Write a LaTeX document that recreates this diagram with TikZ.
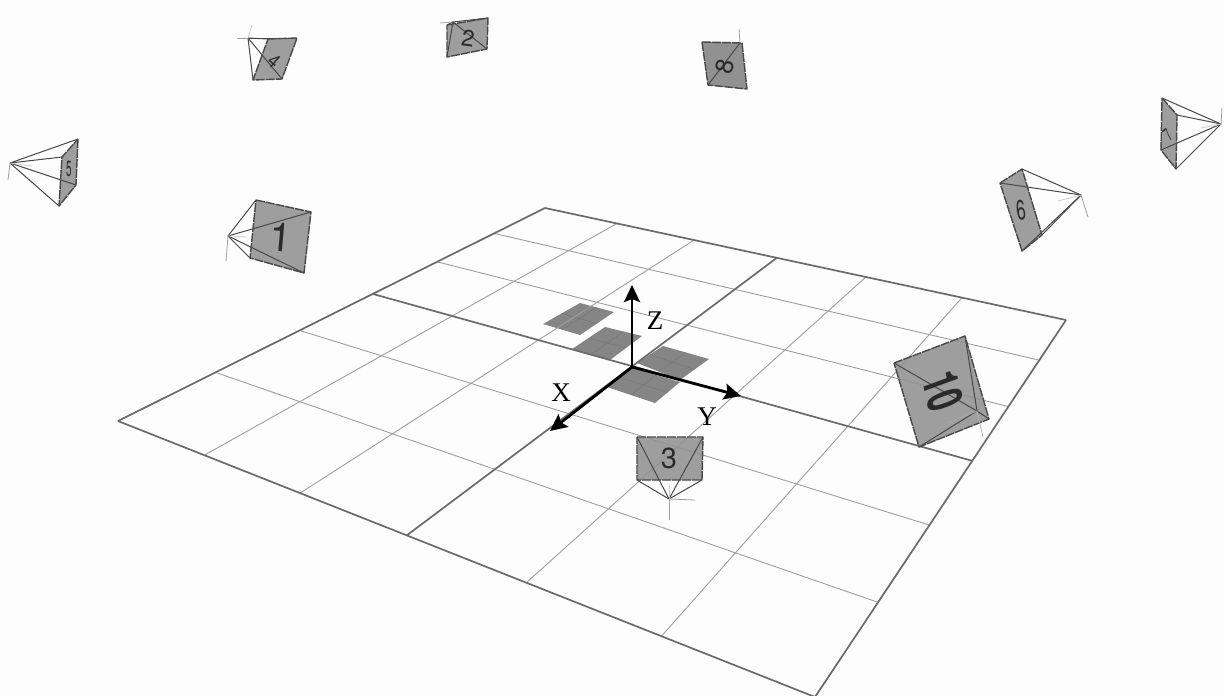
\documentclass[tikz,border=0pt]{standalone}
\usepackage{fontspec}
\setmainfont{Liberation Serif}
\newfontfamily\camfont{TeX Gyre Heros}
\usetikzlibrary{arrows.meta,calc}
\definecolor{bgc}{HTML}{FDFDFD}
\definecolor{thinc}{HTML}{9E9E9E}
\definecolor{heavyc}{HTML}{6A6A6A}
\definecolor{patchc}{HTML}{858585}
\definecolor{patchl}{HTML}{757575}
\definecolor{camc}{HTML}{919191}
\definecolor{edgec}{HTML}{484848}
\definecolor{numc}{HTML}{2A2A2A}
\tikzset{
  gridthin/.style={draw=thinc,line width=0.9pt},
  gridheavy/.style={draw=heavyc,line width=1.7pt},
  patch/.style={fill=patchc,draw=none},
  patchline/.style={draw=patchl,line width=0.5pt},
  camface/.style={draw=edgec,line width=1.4pt,dash pattern=on 9pt off 1pt,line join=round},
  camray/.style={draw=edgec,line width=1pt},
  camaxis/.style={draw=gray!75,line width=0.8pt},
  camnum/.style={text=numc,font=\camfont,inner sep=0pt,transform shape},
  axisarrow/.style={draw=black,line width=2.8pt,-{Stealth[length=17pt,width=16pt,inset=3pt]}},
  axislabel/.style={font=\fontsize{27}{27}\selectfont,text=black,inner sep=0pt}
}
\newcommand{\campyr}[5]{%
  \fill[camc,fill opacity=0.88] #2--#3--#4--#5--cycle;
  \draw[camface] #2--#3--#4--#5--cycle;
  \foreach \cc in {#2,#3,#4,#5}{\draw[camray] #1 -- \cc;}
}
\newcommand{\patchq}[4]{%
  \fill[patch] #1--#2--#3--#4--cycle;
  \draw[patchline] ($#1!0.5!#2$)--($#4!0.5!#3$);
  \draw[patchline] ($#1!0.5!#4$)--($#2!0.5!#3$);
}
\begin{document}
\begin{tikzpicture}[x=1pt,y=-1pt,
  declare function={
    hx(\u,\v)=(309.97*\u-465.21*\v+545)/(-0.19796*\u-0.32380*\v+1);
    hy(\u,\v)=(48.65*\u+76.68*\v+208)/(-0.19796*\u-0.32380*\v+1);
  }]
\useasboundingbox (0,0) rectangle (1224,696);
\fill[bgc] (0,0) rectangle (1224,696);
\clip (0,0) rectangle (1224,696);
% patches under the grid
\patchq{(543,324)}{(580,303)}{(614,312)}{(580,335)}
\patchq{(572,349)}{(605,327)}{(642,336)}{(610,360)}
\patchq{(637,363)}{(663,346)}{(709,359)}{(680,380)}
\patchq{(607,387)}{(632,368)}{(680,382)}{(655,403)}
% floor grid
\foreach \i in {1,2,4,5}{
  \draw[gridthin] ({hx(\i/6,0)},{hy(\i/6,0)}) -- ({hx(\i/6,1)},{hy(\i/6,1)});
  \draw[gridthin] ({hx(0,\i/6)},{hy(0,\i/6)}) -- ({hx(1,\i/6)},{hy(1,\i/6)});
}
\foreach \i in {0,3,6}{
  \draw[gridheavy] ({hx(\i/6,0)},{hy(\i/6,0)}) -- ({hx(\i/6,1)},{hy(\i/6,1)});
  \draw[gridheavy] ({hx(0,\i/6)},{hy(0,\i/6)}) -- ({hx(1,\i/6)},{hy(1,\i/6)});
}
% camera 1
\campyr{(228,236)}{(256,200)}{(311,212)}{(304,273)}{(250,258)}
\draw[camaxis] (228,236)--(226,261);
\draw[camaxis,gray!40] (228,236)--(247,237);
\node[camnum,font=\camfont\fontsize{40}{40}\selectfont,rotate=-5] (n1) at (281,237) {1};
% camera 2
\campyr{(453,22)}{(447,25)}{(488,18)}{(487,49)}{(447,57)}
\draw[camaxis] (453,22)--(440,23);
\node[camnum,font=\camfont\fontsize{23}{23}\selectfont,rotate=-8] (n2) at (468,38) {2};
% camera 3
\campyr{(669,499)}{(637,437)}{(703,437)}{(702,480)}{(637,480)}
\draw[camaxis] (669,499)--(669,520);
\draw[camaxis] (669,499)--(695,500);
\draw[camaxis,gray!40] (669,499)--(669,485);
\node[camnum,font=\camfont\fontsize{29}{29}\selectfont] (n3) at (669,458) {3};
% camera 4
\campyr{(248,38)}{(268,39)}{(297,38)}{(282,79)}{(253,80)}
\draw[camaxis] (248,38)--(237,38);
\draw[camaxis,gray!40] (248,38)--(252,25);
\node[camnum,font=\camfont\fontsize{20}{20}\selectfont,rotate=-40,xscale=0.85] (n4) at (274,61) {4};
% camera 5
\campyr{(10,163)}{(78,139)}{(76,185)}{(59,206)}{(62,157)}
\draw[camaxis] (10,163)--(8,180);
\draw[camaxis,gray!40] (10,163)--(32,166);
\node[camnum,font=\camfont\fontsize{22}{22}\selectfont,xscale=0.45] (n5) at (69,169) {5};
% camera 6
\campyr{(1081,195)}{(1000,183)}{(1022,169)}{(1042,235)}{(1022,251)}
\draw[camaxis] (1081,195)--(1088,217);
\draw[camaxis,gray!40] (1081,195)--(1058,201);
\node[camnum,font=\camfont\fontsize{28}{28}\selectfont,rotate=8,xscale=0.6] (n6) at (1021,210) {6};
% camera 7
\campyr{(1221,124)}{(1162,98)}{(1177,115)}{(1176,169)}{(1161,150)}
\draw[camaxis] (1221,124)--(1222,108);
\draw[camaxis,gray!40] (1221,124)--(1201,128);
\node[camnum,font=\camfont\fontsize{18}{18}\selectfont,rotate=40,xscale=0.6] (n7) at (1168,135) {7};
% camera 8
\fill[camc] (702,42)--(742,43)--(747,89)--(708,85)--cycle;
\draw[camface] (702,42)--(742,43)--(747,89)--(708,85)--cycle;
\draw[camray] (740,43)--(708,85);
\draw[camaxis] (740,43)--(739,29);
\node[camnum,font=\camfont\fontsize{25}{25}\selectfont,rotate=75] (n8) at (725,67) {8};
% camera 10
\campyr{(977,411)}{(894,363)}{(965,336)}{(989,419)}{(919,447)}
\draw[camaxis,gray!60] (977,411)--(983,437);
\draw[camray,gray!70] (977,411)--(948,423);
\node[camnum,font=\camfont\bfseries\fontsize{46}{46}\selectfont,cm={0.134,-0.687,1.03,0.376,(0,0)}] (n10) at (943,391) {10};
% axes
\coordinate (o) at (632,367);
\coordinate (xe) at (550,431);
\coordinate (ye) at (741,396);
\coordinate (ze) at (632,285);
\draw[axisarrow] (o)--(xe);
\draw[axisarrow] (o)--(ye);
\draw[axisarrow] (o)--(ze);
\node[axislabel] (lx) at (561,393) {X};
\node[axislabel] (ly) at (707,417) {Y};
\node[axislabel] (lz) at (655,321) {Z};
\end{tikzpicture}
\end{document}
